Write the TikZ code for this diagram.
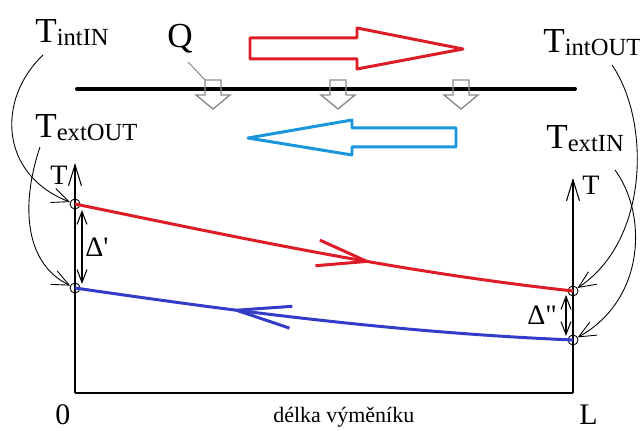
\documentclass[tikz,border=0pt]{standalone}
\usepackage{fontspec}
\setmainfont{Liberation Serif}
\usepackage{tikz}
\usetikzlibrary{arrows.meta, decorations.markings}

\definecolor{hotred}{RGB}{222,28,40}
\definecolor{coldblue}{RGB}{50,60,200}
\definecolor{flowcyan}{RGB}{25,150,220}
\definecolor{fluxgray}{RGB}{140,140,140}

\newcommand{\Tlab}[1]{T\raisebox{-1.2pt}{\fontsize{14}{14}\selectfont #1}}

\begin{document}
\begin{tikzpicture}[
    x=0.02cm, y=-0.02cm,
    lab/.style={anchor=base west, inner sep=0pt, font=\fontsize{20}{22}\selectfont},
    axlab/.style={anchor=base west, inner sep=0pt, font=\fontsize{16}{18}\selectfont},
    endlab/.style={anchor=base west, inner sep=0pt, font=\fontsize{17}{19}\selectfont},
    pt/.style={draw, circle, inner sep=0pt, minimum size=0.2cm, line width=0.5pt},
    axis/.style={line width=0.6pt, -{Straight Barb[length=0.42cm, width=0.26cm]}},
    dimarrow/.style={line width=0.6pt, {Straight Barb[length=0.26cm, width=0.2cm]}-{Straight Barb[length=0.26cm, width=0.2cm]}},
    pointer/.style={line width=0.5pt, -{Straight Barb[length=0.34cm, width=0.3cm]}},
    flux/.style={draw=fluxgray, line width=0.8pt},
    hotline/.style={hotred, line width=1.7pt, postaction={decorate},
        decoration={markings, mark=at position 0.6 with {\arrow{Straight Barb[length=1cm, width=0.52cm]}}}},
    coldline/.style={coldblue, line width=1.7pt, postaction={decorate},
        decoration={markings, mark=at position 0.31 with {\arrowreversed{Straight Barb[length=1.1cm, width=0.44cm]}}}}
]
\useasboundingbox (0,0) rectangle (640,431);

% Wall and heat flux
\draw[line width=2.3pt, line cap=round] (77,89) -- (575,89);
\foreach \fx [count=\i] in {213,338,461} {
    \draw[flux] (\fx-8,80) -- (\fx+8,80) -- (\fx+8,95) -- (\fx+17,95) -- (\fx,109) -- (\fx-17,95) -- (\fx-8,95) -- cycle;
    \coordinate (flux\i) at (\fx-8,80);
}

% Flow directions
\draw[hotred, line width=1.7pt, line join=round] (250,38) -- (357,38) -- (357,28) -- (463,49) -- (357,69) -- (357,59) -- (250,59) -- cycle;
\draw[flowcyan, line width=1.7pt, line join=round] (456,128) -- (352,128) -- (352,120) -- (248,138) -- (352,155) -- (352,147) -- (456,147) -- cycle;

% Labels
\node[lab] (tintin) at (35,43) {\Tlab{intIN}};
\node[lab] (q) at (167,48) {Q};
\node[lab] (tintout) at (543,53) {\Tlab{intOUT}};
\node[lab] (textout) at (35,138) {\Tlab{extOUT}};
\node[lab] (textin) at (546,149) {\Tlab{extIN}};

\draw[fluxgray, line width=0.6pt] ([shift={(21,14)}]q.base west) -- (flux1);

% Axes
\coordinate (orig) at (75,393);
\coordinate (lend) at (573,393);
\coordinate (ltop) at (75,163);
\coordinate (rtop) at (573,178);
\draw[line width=0.6pt] (orig) -- (lend);
\draw[axis] (orig) -- (ltop);
\draw[axis] (lend) -- (rtop);
\node[axlab] (tleft) at (50,185) {T};
\node[axlab] (tright) at (582,195) {T};
\node[endlab] (zero) at (55,425) {0};
\node[endlab] (len) at (579,425) {L};
\node[anchor=base west, inner sep=0pt, font=\fontsize{12.5}{14}\selectfont] (xlab) at (273,423) {délka výměníku};

% Temperature points
\node[pt] (redin) at (75,204) {};
\node[pt] (blueout) at (75,288) {};
\node[pt] (redout) at (573,291) {};
\node[pt] (bluein) at (573,340) {};

% Temperature profiles
\draw[hotline] (redin.center) .. controls (250,240) and (400,272) .. (redout.center);
\draw[coldline] (blueout.center) .. controls (200,306) and (380,332) .. (bluein.center);

% Differences
\draw[dimarrow] ([shift={(7,6)}]redin.center) -- ([shift={(7,-4)}]blueout.center);
\draw[dimarrow] ([shift={(-7,4)}]redout.center) -- ([shift={(-7,-4)}]bluein.center);
\node[axlab] (dleft) at (85,257) {Δ\textquotesingle};
\node[axlab] (dright) at (527,325) {Δ\textquotedbl};

% Pointers
\draw[pointer] ([shift={(8,12)}]tintin.base west) .. controls (-4,100) and (0,175) .. (redin);
\draw[pointer] ([shift={(5,9)}]textout.base west) .. controls (22,200) and (22,262) .. (blueout);
\draw[pointer] ([shift={(69,12)}]tintout.base west) .. controls (650,120) and (650,240) .. (redout);
\draw[pointer] ([shift={(69,21)}]textin.base west) .. controls (648,215) and (645,300) .. (bluein);

\end{tikzpicture}
\end{document}
